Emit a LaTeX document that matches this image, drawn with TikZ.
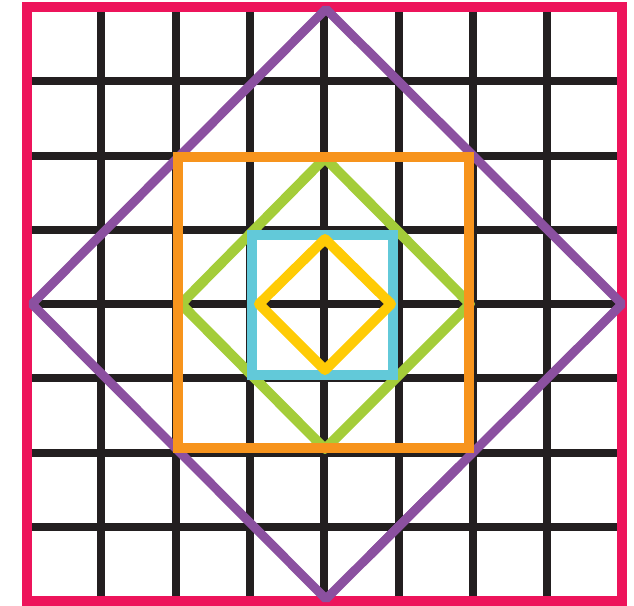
\documentclass[tikz,border=0pt]{standalone}
\usetikzlibrary{calc}
\definecolor{gridk}{HTML}{231F20}
\definecolor{redb}{HTML}{ED145B}
\definecolor{purp}{HTML}{8B50A0}
\definecolor{orng}{HTML}{F7941D}
\definecolor{grn}{HTML}{A4CD39}
\definecolor{blu}{HTML}{62C9D9}
\definecolor{ylw}{HTML}{FFCB05}
\begin{document}
\begin{tikzpicture}[x=1pt,y=-1pt,
  gridline/.style={gridk,line width=8pt},
  roundline/.style={line width=#1,line join=round}]
\useasboundingbox (0,0) rectangle (634,605);
\fill[white] (0,0) rectangle (634,605);
% grid
\foreach \i in {1,...,7}{
  \draw[gridline] ({27+74.3*\i},7) -- ({27+74.3*\i},601);
  \draw[gridline] (27,{7+74.25*\i}) -- (621.5,{7+74.25*\i});
}
% red border
\draw[redb,line width=10pt] (27,7) rectangle (621.5,601);
% purple diamond
\coordinate (PT) at (326,9);
\coordinate (PR) at (622,304);
\coordinate (PB) at (326,599);
\coordinate (PL) at (32,304);
\draw[purp,line width=9pt,line join=bevel] (PT) -- (PR) -- (PB) -- (PL) -- cycle;
% green diamond
\draw[grn,roundline=10pt] (325,158) -- (470,304) -- (325,449) -- (181,304) -- cycle;
% orange square
\draw[orng,line width=10pt] (178,157) rectangle (469,448);
\draw[purp,line width=9pt] ($(PR)!0.55!(PB)$) -- ($(PR)!0.85!(PB)$);
% blue square
\draw[blu,line width=10pt] (252,234.5) rectangle (392.5,375);
% yellow diamond
\draw[ylw,roundline=10pt] (325,239) -- (391,304) -- (325,370) -- (259,304) -- cycle;
\end{tikzpicture}
\end{document}
